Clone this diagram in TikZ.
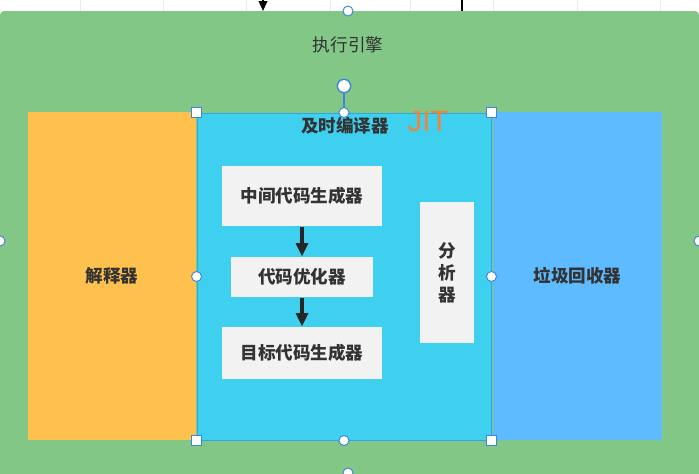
\documentclass[tikz,border=0pt]{standalone}
\usepackage{fontspec}
\setmainfont{Noto Sans CJK SC}
\newfontfamily\jitfont{Liberation Sans}
\usetikzlibrary{arrows.meta,positioning}

\definecolor{enginegreen}{HTML}{82C786}
\definecolor{interporange}{HTML}{FFC14D}
\definecolor{jitcyan}{HTML}{3FD0EF}
\definecolor{jitedge}{HTML}{2FA6E6}
\definecolor{gcblue}{HTML}{5EBBFF}
\definecolor{stagegray}{HTML}{F2F2F2}
\definecolor{labeldark}{HTML}{333333}
\definecolor{jitorange}{HTML}{F5832F}
\definecolor{handleblue}{HTML}{3A86D8}

\tikzset{
  txt/.style={text=labeldark, font=\fontsize{15}{18.7}\selectfont},
  boldtxt/.style={text=labeldark, font=\bfseries\fontsize{15}{18.7}\selectfont},
  block/.style={boldtxt, inner sep=0pt, minimum height=9.84cm},
  stage/.style={boldtxt, fill=stagegray, inner sep=0pt},
  flow/.style={-{Triangle[width=0.36cm,length=0.4cm]}, line width=2.6pt, black!85},
  grip/.style={circle, fill=white, draw=handleblue, line width=0.8pt,
    inner sep=0pt, minimum size=0.3cm},
  corner/.style={rectangle, fill=white, draw=handleblue, line width=0.8pt,
    inner sep=0pt, minimum size=0.3cm}
}

\begin{document}
\begin{tikzpicture}[x=0.03cm, y=-0.03cm, >=Stealth, line width=0.9pt]
  \useasboundingbox (0,0) rectangle (699,473);
  \clip (0,0) rectangle (699,473);

  % canvas strip above the engine
  \fill[white] (0,0) rectangle (699,12);
  \foreach \gx in {80,163,246,330,410,493,577,660}
    \draw[black!8, line width=0.4pt] (\gx,0) -- (\gx,12);
  \coordinate (inA) at (263,-20);
  \coordinate (inB) at (263,11);
  \coordinate (outA) at (462,-20);
  \coordinate (outB) at (462,11);
  \draw[-{Triangle[width=0.26cm,length=0.3cm]}, line width=1.2pt] (inA) -- (inB);
  \draw[line width=1.6pt] (outA) -- (outB);

  % execution engine
  \fill[enginegreen, rounded corners=0.12cm] (0,11) rectangle (699,490);
  \node[txt] (engine) at (348,45) {执行引擎};

  \node[block, fill=interporange, minimum width=5.04cm] (interp) at (112,276) {解释器};
  \node[block, fill=gcblue, minimum width=5.07cm] (gc) at (577.5,276) {垃圾回收器};
  \node[block, fill=jitcyan, draw=jitedge, line width=0.8pt,
    minimum width=8.82cm, minimum height=9.81cm] (jit) at (344,276.5) {};
  \node[boldtxt] (jitname) at (345,126) {及时编译器};
  \node[text=jitorange, font=\jitfont\fontsize{25}{28}\selectfont] (jittag) at (428,122) {JIT};

  % compiler stages
  \node[stage, minimum width=4.8cm, minimum height=1.8cm] (ir) at (302,196) {中间代码生成器};
  \node[stage, minimum width=4.26cm, minimum height=1.2cm] (opt) at (302,277) {代码优化器};
  \node[stage, minimum width=4.8cm, minimum height=1.56cm] (gen) at (302,353) {目标代码生成器};
  \node[stage, minimum width=1.62cm, minimum height=4.23cm, align=center] (ana) at (447,272.5) {分\\析\\器};

  \draw[flow] (ir) -- (opt);
  \draw[flow] (opt) -- (gen);

  % selection handles
  \node[grip, minimum size=0.4cm, line width=1.2pt] (rot) at (344,86) {};
  \draw[handleblue, line width=1.6pt] (rot) -- (jit.north);
  \foreach \hp in {north,south,west,east}
    \node[grip] at (jit.\hp) {};
  \foreach \hp in {north west,north east,south west,south east}
    \node[corner] at (jit.\hp) {};
  \node[grip] (gtop) at (348,11) {};
  \node[grip] (gleft) at (0,241) {};
  \node[grip] (gright) at (699,241) {};
  \node[grip] (gbottom) at (348,473) {};
\end{tikzpicture}
\end{document}
